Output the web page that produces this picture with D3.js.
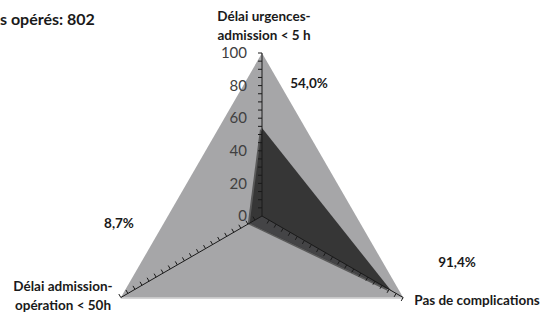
<!DOCTYPE html>
<html>
<head>
<meta charset="utf-8">
<script src="https://cdn.jsdelivr.net/npm/d3@7"></script>
<style>
  body { margin: 0; background: #fff; }
  text { font-family: Lato, "Open Sans", sans-serif; }
</style>
</head>
<body>
<div id="chart"></div>
<script>
// radar data
var axisNames = [
    ["Délai urgences-", "admission < 5 h"],
    ["Pas de complications"],
    ["Délai admission-", "opération < 50h"]
];
var values = [54.0, 91.4, 8.7];
var valueLabels = ["54,0%", "91,4%", "8,7%"];
var tickLabels = [0, 20, 40, 60, 80, 100];
var minorTicks = d3.range(5, 101, 5);
var title = "s opérés: 802"; // visible part of the cropped title

var svgWidth = 545;
var svgHeight = 317;

var svg = d3.select("#chart")
    .append("svg")
    .attr("width", svgWidth)
    .attr("height", svgHeight);

var cx = 262, cy = 216;
var angles = [-90, 30, 150].map(a => a * Math.PI / 180);

var rScale = d3.scaleLinear()
    .domain([0, 100])
    .range([0, 163]);

function pt(i, v) {
    return [cx + rScale(v) * Math.cos(angles[i]), cy + rScale(v) * Math.sin(angles[i])];
}

// outer frame (100%)
svg.append("polygon")
    .attr("points", [0, 1, 2].map(i => pt(i, 100).join(",")).join(" "))
    .attr("fill", "#a6a6a8");

// bottom edge highlight
svg.append("line")
    .attr("x1", pt(2, 100)[0]).attr("y1", pt(2, 100)[1] + 0.5)
    .attr("x2", pt(1, 100)[0]).attr("y2", pt(1, 100)[1] + 0.5)
    .attr("stroke", "#c4c4c6")
    .attr("stroke-width", 1.5);

// data polygon, with a light depth side
var dataPts = values.map((v, i) => pt(i, v));

svg.append("polygon")
    .attr("points", dataPts.map(p => [p[0] - 2, p[1] + 1].join(",")).join(" "))
    .attr("fill", "#5a5a5a");

svg.append("polygon")
    .attr("points", dataPts.map(p => p.join(",")).join(" "))
    .attr("fill", "#363636");

// lower sliver a bit lighter (3d shading)
svg.append("polygon")
    .attr("points", [[cx, cy], dataPts[1], dataPts[2]].map(p => p.join(",")).join(" "))
    .attr("fill", "#444446");

// axes with tick marks
var tickSide = [[-1, 0], [-0.5, 0.866], [-0.5, -0.866]];

angles.forEach(function(a, i) {
    var end = pt(i, 100);
    svg.append("line")
        .attr("x1", cx).attr("y1", cy)
        .attr("x2", end[0]).attr("y2", end[1])
        .attr("stroke", "#1a1a1a")
        .attr("stroke-width", 1);

    svg.selectAll(null)
        .data(minorTicks)
        .enter()
        .append("line")
        .attr("x1", d => pt(i, d)[0])
        .attr("y1", d => pt(i, d)[1])
        .attr("x2", d => pt(i, d)[0] + tickSide[i][0] * 4)
        .attr("y2", d => pt(i, d)[1] + tickSide[i][1] * 4)
        .attr("stroke", "#1a1a1a")
        .attr("stroke-width", 1);
});

// value axis labels
svg.selectAll(null)
    .data(tickLabels)
    .enter()
    .append("text")
    .attr("x", cx - 15)
    .attr("y", d => pt(0, d)[1])
    .attr("dy", "0.35em")
    .attr("text-anchor", "end")
    .style("font-size", "15px")
    .style("fill", "#404040")
    .text(d => d);

// category labels
var namePos = [[264, 21], [477, 305], [63, 291]];
axisNames.forEach(function(lines, i) {
    var t = svg.append("text")
        .attr("text-anchor", "middle")
        .style("font-size", "13.5px")
        .style("font-weight", "bold")
        .style("fill", "#1a1a1a");
    lines.forEach(function(l, j) {
        t.append("tspan")
            .attr("x", namePos[i][0])
            .attr("y", namePos[i][1] + j * 19)
            .text(l);
    });
});

// value labels
var valuePos = [[309, 88], [457, 267], [119, 228]];
valueLabels.forEach(function(l, i) {
    svg.append("text")
        .attr("x", valuePos[i][0])
        .attr("y", valuePos[i][1])
        .attr("text-anchor", "middle")
        .style("font-size", "13.5px")
        .style("font-weight", "bold")
        .style("fill", "#1a1a1a")
        .text(l);
});

// title (left part cropped in the original)
svg.append("text")
    .attr("x", 0)
    .attr("y", 25)
    .style("font-size", "16px")
    .style("font-weight", "bold")
    .style("fill", "#1a1a1a")
    .text(title);
</script>
</body>
</html>
